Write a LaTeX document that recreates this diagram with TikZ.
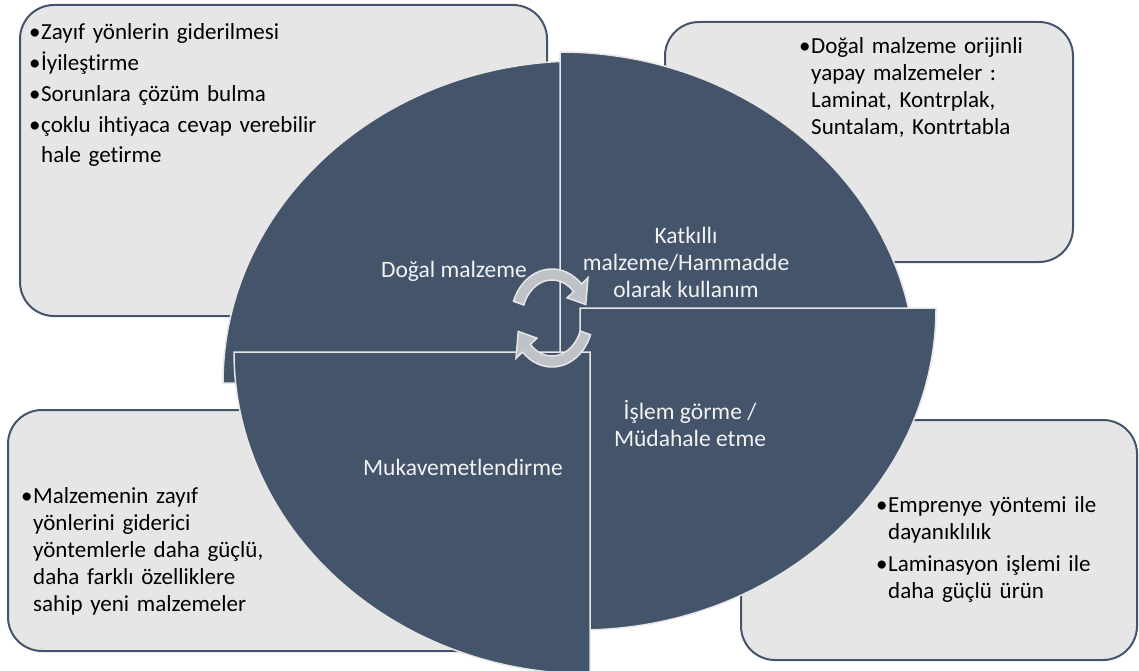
\documentclass[tikz,border=0pt]{standalone}
\usepackage{fontspec}
\setmainfont{Carlito}[Ligatures=NoCommon]
\definecolor{lacivert}{HTML}{44546A}
\definecolor{acikgri}{HTML}{E7E6E6}
\definecolor{okgri}{HTML}{BFC2C7}
\tikzset{%
		kutu/.style={draw=lacivert,line width=2pt,fill=acikgri,rounded corners=34pt},
		dilim/.style={draw=acikgri,line width=1.5pt,fill=lacivert},
		ok/.style={draw=acikgri,line width=1.5pt,fill=okgri},
		dilimyazi/.style={text=white!95!black,align=center,font=\fontsize{23.5}{27}\selectfont},
		kutuyazi/.style={anchor=north west,inner sep=0pt,text width=#1,align=left,
			font=\fontsize{23}{27}\selectfont\setlength{\parskip}{3pt}}
	}
% pasta dilimi: kose x, kose y, baslangic acisi
\newcommand{\dilim}[3]{
		\filldraw[dilim] (#1,#2) -- ++(#3:356 and 322) arc[start angle=#3,delta angle=90,x radius=356,y radius=322] -- cycle ;
	}
% dairesel ok: baslangic, govde sonu, uc
\newcommand{\ok}[3]{
		\begin{scope}[shift={(552,318)}]
			\filldraw[ok] (#1:41 and 49) arc[start angle=#1,end angle=#2,x radius=41,y radius=49]
				-- (#2:50 and 58) -- (#3:35.5 and 43.5) -- (#2:21 and 29) -- (#2:30 and 38)
				arc[start angle=#2,end angle=#1,x radius=30,y radius=38] -- cycle ;
		\end{scope}
	}
\newcommand{\madde}[1]{\hangindent=12pt\hangafter=1\noindent\makebox[12pt][l]{\textbullet}#1\par}

\begin{document}
\begin{tikzpicture}[x=1pt,y=-1pt]
      \useasboundingbox (0,0) rectangle (1139,671) ;
      % kutular
      \draw[kutu] (20,5) rectangle (547,316) ;
      \draw[kutu] (665,22) rectangle (1073,262) ;
      \draw[kutu] (8,410) rectangle (540,651) ;
      \draw[kutu] (741,420) rectangle (1137,660) ;

      % dilimler
      \dilim{579}{383}{180}
      \dilim{560}{374}{270}
      \dilim{580}{308}{0}
      \dilim{590}{352}{90}

      \node[dilimyazi] (dogal) at (454,271) {Doğal malzeme} ;
      \node[dilimyazi] (katkili) at (686,262) {Katkıllı\\malzeme/Hammadde\\olarak kullanım} ;
      \node[dilimyazi] (islem) at (690,423) {İşlem görme /\\Müdahale etme} ;
      \node[dilimyazi] (mukavemet) at (463,467) {Mukavemetlendirme} ;

      \ok{200}{316}{342}
      \ok{20}{136}{162}

      \node[kutuyazi=400pt,font=\fontsize{23}{29.5}\selectfont\setlength{\parskip}{1.5pt}] (sol ust) at (29,23.5) {%
        \madde{Zayıf yönlerin giderilmesi}
        \madde{İyileştirme}
        \madde{Sorunlara çözüm bulma}
        \madde{çoklu ihtiyaca cevap verebilir\newline hale  getirme}} ;
      \node[kutuyazi=260pt] (sag ust) at (799,37.5) {%
        \madde{Doğal malzeme orijinli\newline yapay malzemeler :\newline Laminat, Kontrplak,\newline Suntalam, Kontrtabla}} ;
      \node[kutuyazi=300pt] (sol alt) at (21,487.5) {%
        \madde{Malzemenin zayıf\newline yönlerini giderici\newline yöntemlerle daha güçlü,\newline daha farklı özelliklere\newline sahip yeni malzemeler}} ;
      \node[kutuyazi=260pt,font=\fontsize{23}{27}\selectfont\setlength{\parskip}{5pt}] (sag alt) at (876,496) {%
        \madde{Emprenye yöntemi ile\newline dayanıklılık}
        \madde{Laminasyon işlemi ile\newline daha güçlü ürün}} ;
\end{tikzpicture}
\end{document}
